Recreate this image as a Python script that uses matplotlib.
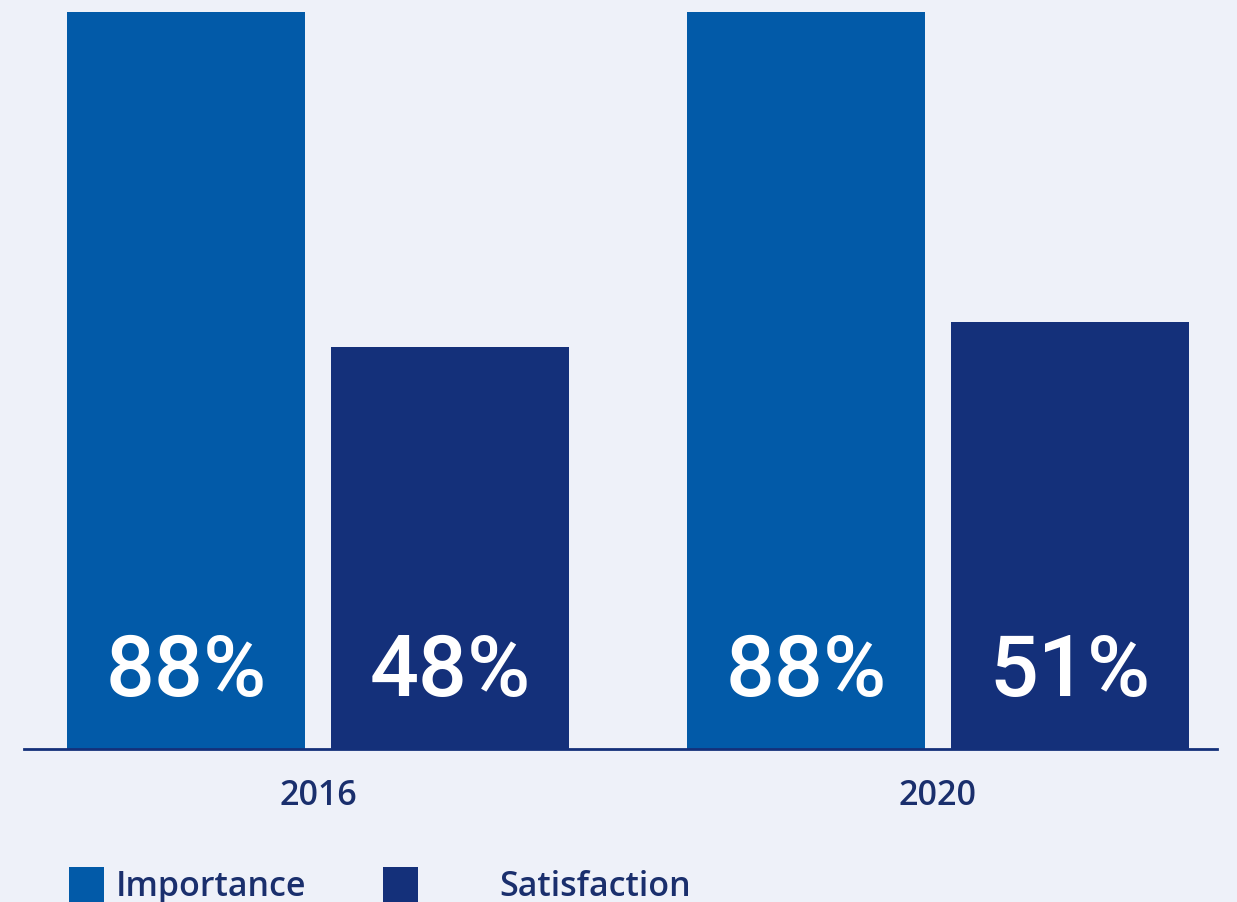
import matplotlib
matplotlib.use("Agg")
import matplotlib.pyplot as plt
from matplotlib.patches import Rectangle
import numpy as np

years = ["2016", "2020"]
series_names = ["Importance", "Satisfaction"]
importance = [88, 88]
satisfaction = [48, 51]
colors = ["#025AA8", "#14307A"]
bg = "#EEF1F9"
text_color = "#1A2F6D"

W, H = 1237, 903
fig = plt.figure(figsize=(W / 100, H / 100), dpi=100, facecolor=bg)
ax = fig.add_axes([24 / W, 1 - 750 / H, (1217 - 24) / W, (750 - 13) / H])
ax.set_facecolor(bg)

x = np.arange(len(years))
bw = 238 / 620
off = 132 / 620
values = [importance, satisfaction]
for i, (vals, col) in enumerate(zip(values, colors)):
    pos = x + (-off if i == 0 else off)
    bars = ax.bar(pos, vals, width=bw, color=col, zorder=2)
    for b, v in zip(bars, vals):
        ax.annotate(f"{v}%", xy=(b.get_x() + b.get_width() / 2, 0),
                    xytext=(0, 39), textcoords="offset points",
                    ha="center", va="baseline", color="white",
                    fontsize=62, fontweight="medium",
                    family=["Roboto", "DejaVu Sans"], zorder=3)

ax.set_xlim(-294 / 620, 1 + 279 / 620)
ax.set_ylim(0, 88)
ax.set_xticks(x)
ax.set_xticklabels(years, fontsize=24.5, color=text_color, fontweight="semibold",
                   family=["Open Sans", "DejaVu Sans"])
ax.tick_params(axis="x", length=0, pad=21)
ax.set_yticks([])
for s in ["top", "right", "left"]:
    ax.spines[s].set_visible(False)
ax.spines["bottom"].set_color("#14307A")
ax.spines["bottom"].set_linewidth(2)
ax.spines["bottom"].set_zorder(4)

# legend drawn manually
sq_x = [69, 383]
txt_x = [116, 499]
for name, col, sx, tx in zip(series_names, colors, sq_x, txt_x):
    fig.patches.append(Rectangle((sx / W, 0), 35 / W, 35 / H, transform=fig.transFigure,
                                 facecolor=col, edgecolor="none"))
    fig.text(tx / W, 1 - 887 / H, name, fontsize=24.5, color=text_color,
             fontweight="semibold", family=["Open Sans", "DejaVu Sans"],
             ha="left", va="center")

fig.savefig("out.png", dpi=100, facecolor=bg)
